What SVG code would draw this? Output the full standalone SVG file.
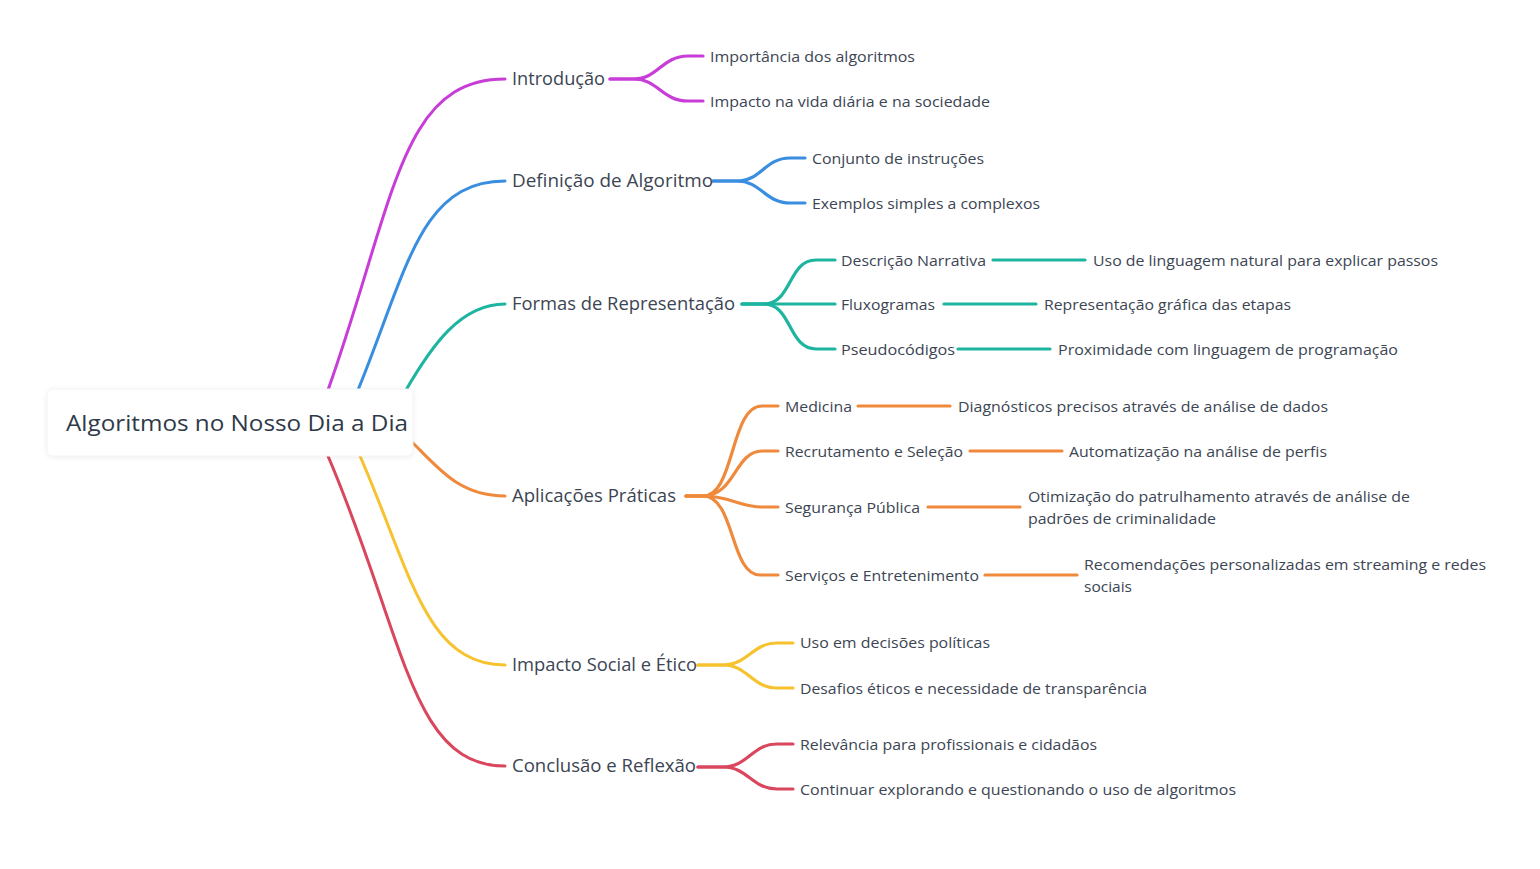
<svg xmlns="http://www.w3.org/2000/svg" width="1540" height="869" viewBox="0 0 1540 869">
<defs>
<filter id="sh" x="-10%" y="-30%" width="120%" height="160%">
<feDropShadow dx="0" dy="1" stdDeviation="2" flood-color="#000" flood-opacity="0.08"/>
</filter>
<style>
text{font-family:"Open Sans","Noto Sans","Liberation Sans",sans-serif;fill:#3c4553}
.root{font-size:22px;fill:#2f3a48}
.main{font-size:17.5px}
.leaf{font-size:15px}
.c{fill:none;stroke-linecap:round}
.l1{stroke-width:3}
.l2{stroke-width:3.2}
.mg{stroke:#c83dd7}
.bl{stroke:#3a8ee0}
.tl{stroke:#1db4a0}
.or{stroke:#ef8a3c}
.ye{stroke:#f6c22e}
.rd{stroke:#d9465e}
</style>
</defs>
<rect width="1540" height="869" fill="#ffffff"/>
<g id="connectors">
<path class="c l1 mg" d="M320 413 L328 390 C395 201 400 79 505 79"/>
<path class="c l1 bl" d="M350 409.6 L358 390 C407 270 420 181 505 181"/>
<path class="c l1 tl" d="M400 400.3 L406 390 C431 347 460 304 505 304"/>
<path class="c l1 or" d="M402 432 L412 442 C440 470 460 496 505 496"/>
<path class="c l1 ye" d="M356 446.9 L360 456 C410 570 425 665 505 665"/>
<path class="c l1 rd" d="M324 446.6 L328 456 C405 636 410 766 505 766"/>

<path class="c l2 mg" d="M610 79 H634 C658 79 662 56 688 56 H703"/>
<path class="c l2 mg" d="M610 79 H634 C658 79 662 101 688 101 H703"/>
<path class="c l2 bl" d="M713 181 H737 C761 181 765 158 790 158 H805"/>
<path class="c l2 bl" d="M713 181 H737 C761 181 765 203 790 203 H805"/>
<path class="c l2 tl" d="M742 304 H764 C792 304 788 260 816 260 H835"/>
<path class="c l2 tl" d="M742 304 H835"/>
<path class="c l2 tl" d="M742 304 H764 C792 304 788 349 816 349 H835"/>
<path class="c l2 or" d="M686 496 H703 C735 496 730 406 762 406 H778"/>
<path class="c l2 or" d="M686 496 H703 C735 496 735 451 762 451 H778"/>
<path class="c l2 or" d="M686 496 H703 C730 496 740 507 762 507 H778"/>
<path class="c l2 or" d="M686 496 H703 C735 496 730 575 760 575 H778"/>
<path class="c l2 ye" d="M698 665 H723 C748 665 752 643 777 643 H793"/>
<path class="c l2 ye" d="M698 665 H723 C748 665 752 688 777 688 H793"/>
<path class="c l2 rd" d="M698 767 H723 C748 767 752 744 777 744 H793"/>
<path class="c l2 rd" d="M698 767 H723 C748 767 752 789 777 789 H793"/>

<path class="c l2 tl" d="M993 260 H1085"/>
<path class="c l2 tl" d="M944 304 H1036"/>
<path class="c l2 tl" d="M958 349 H1050"/>
<path class="c l2 or" d="M858 406 H950"/>
<path class="c l2 or" d="M970 451 H1062"/>
<path class="c l2 or" d="M928 507 H1020"/>
<path class="c l2 or" d="M985 575 H1077"/>
</g>

<g id="root">
<rect x="47" y="389" width="366" height="67" rx="6" fill="#ffffff" stroke="#f3f3f3" filter="url(#sh)"/>
<text class="root" x="66" y="431" textLength="342" lengthAdjust="spacingAndGlyphs">Algoritmos no Nosso Dia a Dia</text>
</g>

<g id="n-introducao"><text class="main" x="512" y="85" textLength="93" lengthAdjust="spacingAndGlyphs">Introdução</text></g>
<g id="n-importancia"><text class="leaf" x="710" y="61.5" textLength="205" lengthAdjust="spacingAndGlyphs">Importância dos algoritmos</text></g>
<g id="n-impacto-vida"><text class="leaf" x="710" y="106.5" textLength="280" lengthAdjust="spacingAndGlyphs">Impacto na vida diária e na sociedade</text></g>

<g id="n-definicao"><text class="main" x="512" y="187" textLength="201" lengthAdjust="spacingAndGlyphs">Definição de Algoritmo</text></g>
<g id="n-conjunto"><text class="leaf" x="812" y="163.5" textLength="172" lengthAdjust="spacingAndGlyphs">Conjunto de instruções</text></g>
<g id="n-exemplos"><text class="leaf" x="812" y="208.5" textLength="228" lengthAdjust="spacingAndGlyphs">Exemplos simples a complexos</text></g>

<g id="n-formas"><text class="main" x="512" y="310" textLength="223" lengthAdjust="spacingAndGlyphs">Formas de Representação</text></g>
<g id="n-descricao"><text class="leaf" x="841" y="265.5" textLength="145" lengthAdjust="spacingAndGlyphs">Descrição Narrativa</text></g>
<g id="n-uso-linguagem"><text class="leaf" x="1093" y="265.5" textLength="345" lengthAdjust="spacingAndGlyphs">Uso de linguagem natural para explicar passos</text></g>
<g id="n-fluxogramas"><text class="leaf" x="841" y="309.5" textLength="94" lengthAdjust="spacingAndGlyphs">Fluxogramas</text></g>
<g id="n-representacao"><text class="leaf" x="1044" y="309.5" textLength="247" lengthAdjust="spacingAndGlyphs">Representação gráfica das etapas</text></g>
<g id="n-pseudocodigos"><text class="leaf" x="841" y="354.5" textLength="114" lengthAdjust="spacingAndGlyphs">Pseudocódigos</text></g>
<g id="n-proximidade"><text class="leaf" x="1058" y="354.5" textLength="340" lengthAdjust="spacingAndGlyphs">Proximidade com linguagem de programação</text></g>

<g id="n-aplicacoes"><text class="main" x="512" y="502" textLength="164" lengthAdjust="spacingAndGlyphs">Aplicações Práticas</text></g>
<g id="n-medicina"><text class="leaf" x="785" y="411.5" textLength="67" lengthAdjust="spacingAndGlyphs">Medicina</text></g>
<g id="n-diagnosticos"><text class="leaf" x="958" y="411.5" textLength="370" lengthAdjust="spacingAndGlyphs">Diagnósticos precisos através de análise de dados</text></g>
<g id="n-recrutamento"><text class="leaf" x="785" y="456.5" textLength="178" lengthAdjust="spacingAndGlyphs">Recrutamento e Seleção</text></g>
<g id="n-automatizacao"><text class="leaf" x="1069" y="456.5" textLength="258" lengthAdjust="spacingAndGlyphs">Automatização na análise de perfis</text></g>
<g id="n-seguranca"><text class="leaf" x="785" y="512.5" textLength="135" lengthAdjust="spacingAndGlyphs">Segurança Pública</text></g>
<g id="n-otimizacao"><text class="leaf" x="1028" y="501.5" textLength="382" lengthAdjust="spacingAndGlyphs">Otimização do patrulhamento através de análise de</text><text class="leaf" x="1028" y="523.5" textLength="188" lengthAdjust="spacingAndGlyphs">padrões de criminalidade</text></g>
<g id="n-servicos"><text class="leaf" x="785" y="580.5" textLength="194" lengthAdjust="spacingAndGlyphs">Serviços e Entretenimento</text></g>
<g id="n-recomendacoes"><text class="leaf" x="1084" y="569.5" textLength="402" lengthAdjust="spacingAndGlyphs">Recomendações personalizadas em streaming e redes</text><text class="leaf" x="1084" y="591.5" textLength="48" lengthAdjust="spacingAndGlyphs">sociais</text></g>

<g id="n-impacto-social"><text class="main" x="512" y="671" textLength="185" lengthAdjust="spacingAndGlyphs">Impacto Social e Ético</text></g>
<g id="n-uso-decisoes"><text class="leaf" x="800" y="647.5" textLength="190" lengthAdjust="spacingAndGlyphs">Uso em decisões políticas</text></g>
<g id="n-desafios"><text class="leaf" x="800" y="693.5" textLength="347" lengthAdjust="spacingAndGlyphs">Desafios éticos e necessidade de transparência</text></g>

<g id="n-conclusao"><text class="main" x="512" y="772" textLength="184" lengthAdjust="spacingAndGlyphs">Conclusão e Reflexão</text></g>
<g id="n-relevancia"><text class="leaf" x="800" y="749.5" textLength="297" lengthAdjust="spacingAndGlyphs">Relevância para profissionais e cidadãos</text></g>
<g id="n-continuar"><text class="leaf" x="800" y="794.5" textLength="436" lengthAdjust="spacingAndGlyphs">Continuar explorando e questionando o uso de algoritmos</text></g>
</svg>
